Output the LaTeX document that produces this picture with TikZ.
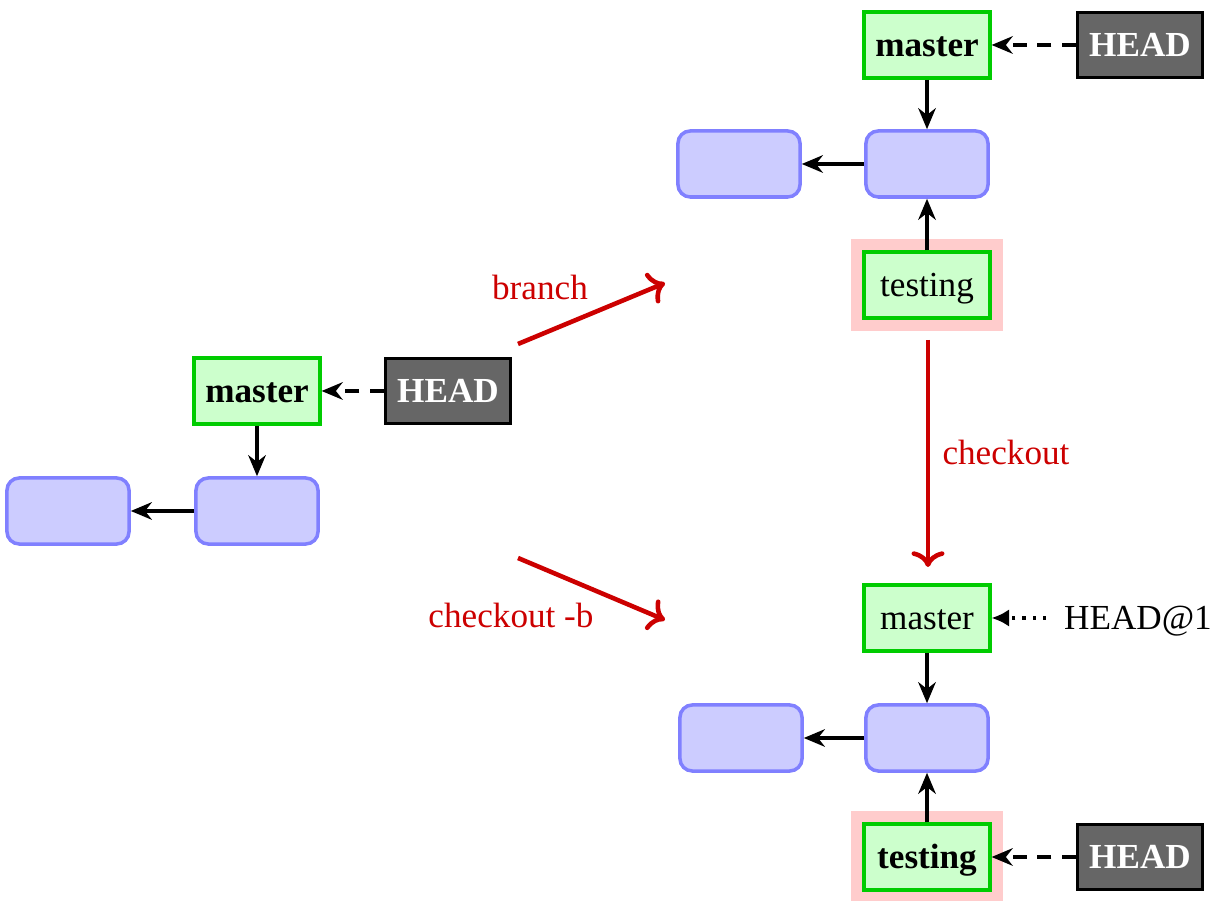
\documentclass[tikz,border=0pt]{standalone}
\usepackage{fontspec}
\setmainfont{Liberation Serif}
\usetikzlibrary{arrows.meta,positioning,fit,backgrounds}

\definecolor{branchfill}{HTML}{CCFFCC}
\definecolor{branchline}{HTML}{00CC00}
\definecolor{commitfill}{HTML}{CCCCFF}
\definecolor{commitline}{HTML}{8080FF}
\definecolor{headfill}{HTML}{666666}
\definecolor{curfill}{HTML}{FFCCCC}
\definecolor{cmdred}{HTML}{CC0000}

\tikzset{
    reftext/.style={text height=0.9em, text depth=0.22em},
    commit/.style={draw=commitline, fill=commitfill, line width=1pt, rounded corners=3.5pt,
        minimum width=1.22cm, minimum height=0.66cm},
    branchbox/.style={reftext, draw=branchline, fill=branchfill, line width=0.9pt, inner sep=0pt,
        minimum width=1.26cm, minimum height=0.66cm},
    headbox/.style={reftext, draw=black, fill=headfill, text=white, font=\bfseries, line width=0.9pt,
        inner sep=0pt, minimum width=1.25cm, minimum height=0.65cm},
    curbox/.style={fill=curfill, inner sep=0.11cm},
    ptr/.style={-{Stealth[length=6pt,width=5pt]}, line width=0.9pt},
    headptr/.style={ptr, dash pattern=on 4pt off 3pt},
    cmd/.style={->, draw=cmdred, line width=1.3pt},
    cmdlabel/.style={text=cmdred}
}

\begin{document}
\begin{tikzpicture}[x=0.01cm, y=-0.01cm]
    \useasboundingbox (0,0) rectangle (1221,901);

    % before: master with HEAD
    \node[branchbox, font=\bfseries] (m0) at (257,391) {master};
    \node[headbox] (h0) at (448,391) {HEAD};
    \node[commit] (c0b) at (257,511) {};
    \node[commit] (c0a) at (68,511) {};
    \draw[ptr] (m0) -- (c0b);
    \draw[ptr] (c0b) -- (c0a);
    \draw[headptr] (h0) -- (m0);

    % after branch
    \node[branchbox, font=\bfseries] (m1) at (927,45) {master};
    \node[headbox] (h1) at (1140,45) {HEAD};
    \node[commit] (c1b) at (927,164) {};
    \node[commit] (c1a) at (739,164) {};
    \node[branchbox] (t1) at (927,285) {testing};
    \begin{scope}[on background layer]
        \node[curbox, fit=(t1)] (cur1) {};
    \end{scope}
    \draw[ptr] (m1) -- (c1b);
    \draw[ptr] (c1b) -- (c1a);
    \draw[ptr] (t1) -- (c1b);
    \draw[headptr] (h1) -- (m1);

    % after checkout
    \node[branchbox] (m2) at (927,618) {master};
    \node[reftext, inner sep=5pt] (old2) at (1138,618) {HEAD@1};
    \node[commit] (c2b) at (927,738) {};
    \node[commit] (c2a) at (741,738) {};
    \node[branchbox, font=\bfseries] (t2) at (927,857) {testing};
    \node[headbox] (h2) at (1140,857) {HEAD};
    \begin{scope}[on background layer]
        \node[curbox, fit=(t2)] (cur2) {};
    \end{scope}
    \draw[ptr] (m2) -- (c2b);
    \draw[ptr] (c2b) -- (c2a);
    \draw[ptr] (t2) -- (c2b);
    \draw[headptr] (h2) -- (t2);
    \draw[-{Latex[length=5pt,width=5pt]}, line width=0.9pt, dotted] (old2) -- (m2);

    % commands
    \coordinate (br0) at (518,344);
    \coordinate (br1) at (665,283);
    \coordinate (cb0) at (518,558);
    \coordinate (cb1) at (665,620);
    \coordinate (co0) at (928,340);
    \coordinate (co1) at (928,567);
    \draw[cmd] (br0) -- (br1);
    \draw[cmd] (cb0) -- (cb1);
    \draw[cmd] (co0) -- (co1);
    \node[cmdlabel] (lbr) at (540,287) {branch};
    \node[cmdlabel] (lcb) at (511,615) {checkout -b};
    \node[cmdlabel] (lco) at (1006,452) {checkout};
\end{tikzpicture}
\end{document}
